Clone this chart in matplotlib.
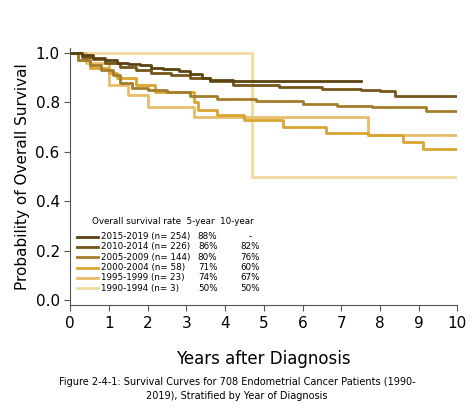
import matplotlib
matplotlib.use("Agg")
import matplotlib.pyplot as plt

# step curves: (time in years, survival after the step)
t_1519 = [0, 0.3, 0.6, 0.9, 1.2, 1.5, 1.8, 2.1, 2.4, 2.8, 3.1, 3.4, 3.6, 4.2, 7.5]
s_1519 = [1.0, 0.99, 0.98, 0.97, 0.96, 0.955, 0.95, 0.94, 0.935, 0.925, 0.915, 0.90, 0.89, 0.885, 0.885]
t_1014 = [0, 0.3, 0.6, 0.9, 1.3, 1.7, 2.1, 2.6, 3.1, 3.6, 4.2, 5.4, 6.5, 7.5, 8.0, 8.4, 10]
s_1014 = [1.0, 0.985, 0.975, 0.96, 0.945, 0.93, 0.92, 0.91, 0.90, 0.885, 0.87, 0.862, 0.855, 0.85, 0.845, 0.825, 0.825]
t_0509 = [0, 0.2, 0.5, 0.8, 1.1, 1.3, 1.6, 2.0, 2.5, 3.1, 3.8, 4.8, 6.0, 6.9, 7.8, 9.2, 10]
s_0509 = [1.0, 0.97, 0.95, 0.93, 0.91, 0.88, 0.86, 0.85, 0.84, 0.825, 0.815, 0.805, 0.795, 0.785, 0.78, 0.765, 0.765]
t_0004 = [0, 0.2, 0.5, 1.0, 1.2, 1.7, 2.2, 3.2, 3.3, 3.8, 4.5, 5.5, 6.6, 7.7, 8.6, 9.1, 10]
s_0004 = [1.0, 0.97, 0.94, 0.92, 0.90, 0.87, 0.84, 0.80, 0.77, 0.75, 0.73, 0.70, 0.675, 0.67, 0.64, 0.61, 0.61]
t_9599 = [0, 0.4, 1.0, 1.5, 2.0, 3.2, 7.7, 10]
s_9599 = [1.0, 0.96, 0.87, 0.83, 0.78, 0.74, 0.67, 0.67]
t_9094 = [0, 4.7, 10]
s_9094 = [1.0, 0.5, 0.5]

labels = ["2015-2019 (n= 254)", "2010-2014 (n= 226)", "2005-2009 (n= 144)",
          "2000-2004 (n= 58)", "1995-1999 (n= 23)", "1990-1994 (n= 3)"]
rate5 = ["88%", "86%", "80%", "71%", "74%", "50%"]
rate10 = ["-", "82%", "76%", "60%", "67%", "50%"]
colors = ["#5b4312", "#76561a", "#a47d2c", "#d9a531", "#e8bd6a", "#f2dba0"]

curves = [(t_1519, s_1519), (t_1014, s_1014), (t_0509, s_0509),
          (t_0004, s_0004), (t_9599, s_9599), (t_9094, s_9094)]

fig = plt.figure(figsize=(4.74, 4.17), dpi=100)
ax = fig.add_axes([0.148, 0.268, 0.817, 0.617])
for (t, s), c in reversed(list(zip(curves, colors))):
    ax.step(t, s, where="post", color=c, lw=2)

ax.set_xlim(0, 10)
ax.set_ylim(-0.02, 1.02)
ax.set_xticks(range(11))
ax.set_yticks([0, 0.2, 0.4, 0.6, 0.8, 1.0])
ax.set_yticklabels(["0.0", "0.2", "0.4", "0.6", "0.8", "1.0"])
ax.tick_params(labelsize=11, length=4, color="#555555")
for sp in ["top", "right"]:
    ax.spines[sp].set_visible(False)
for sp in ["left", "bottom"]:
    ax.spines[sp].set_color("#555555")
ax.set_xlabel("Years after Diagnosis", fontsize=12, labelpad=14)
ax.set_ylabel("Probability of Overall Survival", fontsize=11)

# legend table
fs = 6.3
ax.text(0.57, 0.32, "Overall survival rate  5-year  10-year", fontsize=fs, va="center")
for i, (lab, c) in enumerate(zip(labels, colors)):
    y = 0.257 - i * 0.0415
    ax.plot([0.18, 0.72], [y, y], color=c, lw=2)
    ax.text(0.8, y, lab, fontsize=fs, va="center")
    ax.text(3.55, y, rate5[i], fontsize=fs, va="center", ha="center")
    ax.text(4.65, y, rate10[i], fontsize=fs, va="center", ha="center")

fig.text(0.5, 0.095, "Figure 2-4-1: Survival Curves for 708 Endometrial Cancer Patients (1990-\n2019), Stratified by Year of Diagnosis",
         ha="center", va="top", fontsize=7, linespacing=1.4)
fig.savefig("out.png", dpi=100)
